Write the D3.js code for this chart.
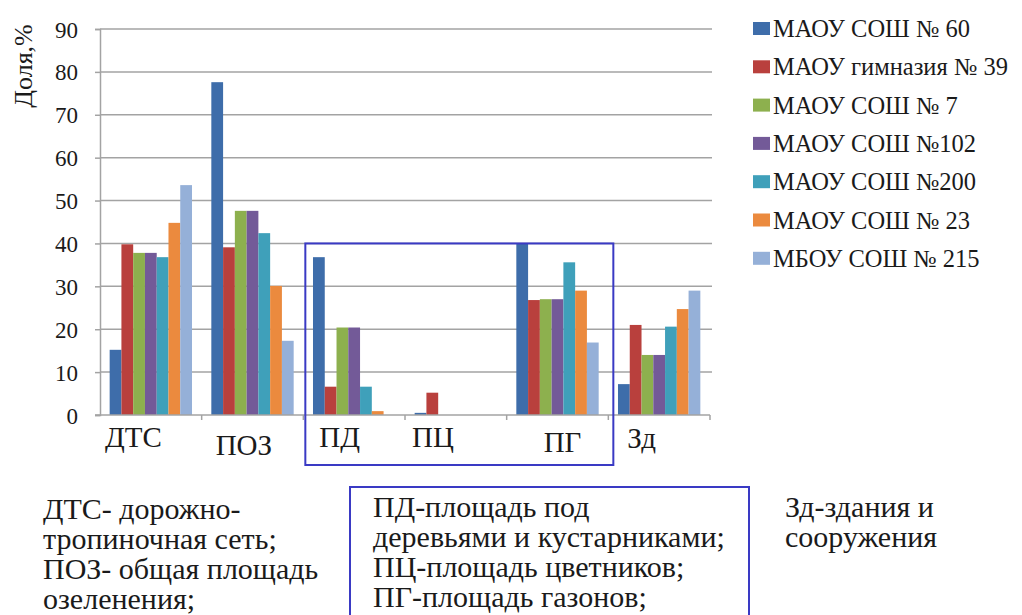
<!DOCTYPE html>
<html>
<head>
<meta charset="utf-8">
<script src="https://cdn.jsdelivr.net/npm/d3@7/dist/d3.min.js"></script>
</head>
<body style="margin:0;background:#ffffff">
<svg id="chart" width="1022" height="615"></svg>
<script>
// ---- data ----
const categories = ["ДТС", "ПОЗ", "ПД", "ПЦ", "ПГ", "Зд"];
const seriesNames = [
  "МАОУ СОШ № 60",
  "МАОУ гимназия № 39",
  "МАОУ СОШ № 7",
  "МАОУ СОШ №102",
  "МАОУ СОШ №200",
  "МАОУ СОШ № 23",
  "МБОУ СОШ № 215"
];
const sosh60   = [15.2, 77.6, 36.8, 0.5, 40.0, 7.2];
const gimn39   = [39.8, 39.1, 6.6, 5.2, 26.8, 21.0];
const sosh7    = [37.8, 47.6, 20.4, 0, 27.0, 14.0];
const sosh102  = [37.8, 47.6, 20.4, 0, 27.0, 14.0];
const sosh200  = [36.8, 42.4, 6.6, 0, 35.6, 20.6];
const sosh23   = [44.8, 30.1, 0.9, 0, 29.0, 24.7];
const sosh215  = [53.6, 17.3, 0, 0, 16.9, 29.0];
const seriesValues = [sosh60, gimn39, sosh7, sosh102, sosh200, sosh23, sosh215];
const yTicks = [0, 10, 20, 30, 40, 50, 60, 70, 80, 90];
const yTitle = "Доля,%";
const notesLeft = ["ДТС- дорожно-", "тропиночная сеть;", "ПОЗ- общая площадь", "озеленения;"];
const notesMiddle = ["ПД-площадь под", "деревьями и кустарниками;", "ПЦ-площадь цветников;", "ПГ-площадь газонов;"];
const notesRight = ["Зд-здания и", "сооружения"];

// ---- styles / layout ----
const FONT = '"Liberation Serif", serif';
const TXT = "#1a1a1a";
const colors = ["#3E6DAA", "#B9403D", "#8DB04E", "#735A98", "#3FA0BA", "#EB8A3E", "#95B0D8"];
const labelDx = [5, 14, 16, 7, 37, 19];      // label offsets from band start
const labelY  = [447, 455, 447, 447, 452, 448];
const boxColor = "#3a3ac4";

const svg = d3.select("#chart");
const plotLeft = 100, plotRight = 710, plotTop = 29, plotBottom = 415;

const x = d3.scaleBand().domain(categories).range([plotLeft, plotRight]).padding(0);
const bw = x.bandwidth();
const xs = d3.scaleBand().domain(d3.range(seriesNames.length)).range([bw * 0.095, bw * 0.905]).padding(0);
const y = d3.scaleLinear().domain([0, 90]).range([plotBottom, plotTop]);

function txt(sel, size) {
  return sel.attr("font-family", FONT).style("font-family", FONT)
    .attr("font-size", size).style("font-size", size + "px").attr("fill", TXT);
}

// gridlines
svg.append("g").selectAll("line").data(yTicks.filter(d => d > 0)).join("line")
  .attr("x1", plotLeft).attr("x2", plotRight + 2)
  .attr("y1", d => y(d)).attr("y2", d => y(d))
  .attr("stroke", "#a3a3a3").attr("stroke-width", 1.5);

// bars
const gBars = svg.append("g");
seriesValues.forEach((vals, si) => {
  gBars.append("g").selectAll("rect").data(vals.map((v, i) => ({ v, c: categories[i] }))).join("rect")
    .attr("x", d => x(d.c) + xs(si))
    .attr("width", xs.bandwidth())
    .attr("y", d => y(d.v))
    .attr("height", d => y(0) - y(d.v))
    .attr("fill", colors[si]);
});

// y axis
const yAxis = d3.axisLeft(y).tickValues(yTicks).tickSize(5).tickFormat(d3.format("d"));
const gy = svg.append("g").attr("transform", `translate(${plotLeft},0)`).call(yAxis);
gy.attr("font-family", FONT).attr("font-size", 23);
gy.select(".domain").attr("stroke", "#a3a3a3").attr("stroke-width", 1.5);
gy.selectAll(".tick line").attr("stroke", "#a3a3a3").attr("stroke-width", 1.5);
txt(gy.selectAll(".tick text").attr("x", -22).attr("dy", "0.35em"), 23);

// x axis baseline + category boundary ticks
svg.append("line").attr("x1", plotLeft - 5).attr("x2", plotRight)
  .attr("y1", y(0)).attr("y2", y(0)).attr("stroke", "#a3a3a3").attr("stroke-width", 1.5);
svg.append("g").selectAll("line").data(categories.map(c => x(c) + bw)).join("line")
  .attr("x1", d => d).attr("x2", d => d)
  .attr("y1", y(0)).attr("y2", y(0) + 5)
  .attr("stroke", "#a3a3a3").attr("stroke-width", 1.5);

// category labels
txt(svg.append("g").selectAll("text").data(categories).join("text")
  .attr("x", (d, i) => x(d) + labelDx[i])
  .attr("y", (d, i) => labelY[i])
  .text(d => d), 29);

// y title
txt(svg.append("text")
  .attr("transform", "translate(32,66) rotate(-90)")
  .attr("text-anchor", "middle")
  .text(yTitle), 26);

// legend
const lg = svg.append("g");
seriesNames.forEach((name, i) => {
  const cy = 29 + i * 38.3;
  lg.append("rect").attr("x", 753).attr("y", cy - 7).attr("width", 17).attr("height", 13).attr("fill", colors[i]);
  txt(lg.append("text").attr("x", 773).attr("y", cy + 8).text(name), 24.5);
});

// highlight box around ПД..ПГ
svg.append("rect")
  .attr("x", x("ПД") + 2).attr("y", y(40))
  .attr("width", x("Зд") + 5 - (x("ПД") + 2))
  .attr("height", 465 - y(40))
  .attr("fill", "none").attr("stroke", boxColor).attr("stroke-width", 2);

// bottom notes
const notes = svg.append("g");
notesLeft.forEach((t, i) => txt(notes.append("text").attr("x", 43).attr("y", 519 + i * 30).text(t), 30));
svg.append("rect").attr("x", 350).attr("y", 487).attr("width", 399).attr("height", 140)
  .attr("fill", "none").attr("stroke", boxColor).attr("stroke-width", 2);
notesMiddle.forEach((t, i) => txt(notes.append("text").attr("x", 373).attr("y", 517 + i * 30).text(t), 30));
notesRight.forEach((t, i) => txt(notes.append("text").attr("x", 785).attr("y", 517 + i * 30).text(t), 30));
</script>
</body>
</html>
